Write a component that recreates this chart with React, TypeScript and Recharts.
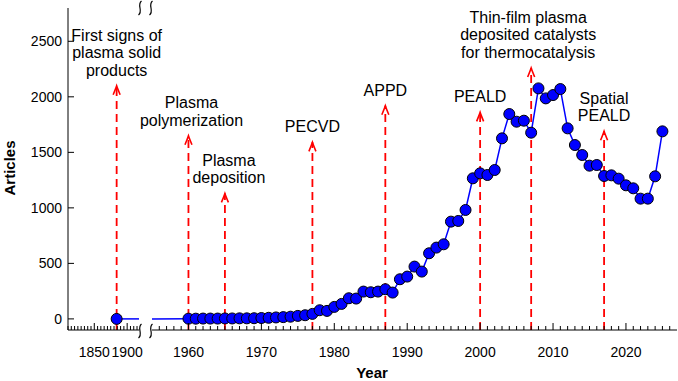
import { LineChart, Line, XAxis, YAxis, ReferenceLine, ReferenceDot } from "recharts";

// left (broken) segment of the time axis
const earlyYears = [1884, 1918];
const earlyArticles = [0, 0];

// right segment
const years = [
  1955, 1960, 1961, 1962, 1963, 1964, 1965, 1966, 1967, 1968, 1969, 1970,
  1971, 1972, 1973, 1974, 1975, 1976, 1977, 1978, 1979, 1980, 1981, 1982,
  1983, 1984, 1985, 1986, 1987, 1988, 1989, 1990, 1991, 1992, 1993, 1994,
  1995, 1996, 1997, 1998, 1999, 2000, 2001, 2002, 2003, 2004, 2005, 2006,
  2007, 2008, 2009, 2010, 2011, 2012, 2013, 2014, 2015, 2016, 2017, 2018,
  2019, 2020, 2021, 2022, 2023, 2024, 2025,
];
const articles = [
  0, 2, 2, 3, 3, 3, 4, 4, 5, 5, 6, 8,
  10, 13, 16, 20, 27, 33, 45, 78, 72, 108, 135, 186,
  183, 246, 240, 246, 267, 237, 357, 381, 471, 426, 591, 642,
  672, 876, 882, 981, 1266, 1311, 1296, 1341, 1626, 1845, 1776, 1785,
  1677, 2076, 1986, 2016, 2070, 1716, 1566, 1476, 1380, 1386, 1287, 1293,
  1263, 1203, 1176, 1083, 1083, 1284, 1689,
];
// points that only carry the line to the axis break (no marker)
const connectorYears = [1918, 1955];

const markerYears = [1884, 1960, 1965, 1977, 1987, 2000, 2007, 2017];
const markerTops = [2100, 1650, 1130, 1590, 1920, 1860, 2260, 1690];
const markerLabels = [
  ["First signs of", "plasma solid", "products"],
  ["Plasma", "polymerization"],
  ["Plasma", "deposition"],
  ["PECVD"],
  ["APPD"],
  ["PEALD"],
  ["Thin-film plasma", "deposited catalysts", "for thermocatalysis"],
  ["Spatial", "PEALD"],
];
const labelShift: Record<number, number> = { 1960: 3, 1965: 4, 2007: -3, 2017: 0 };

const yTicks = [0, 500, 1000, 1500, 2000, 2500];
const earlyLabels = [1850, 1900];
const lateLabels = [1960, 1970, 1980, 1990, 2000, 2010, 2020];

const earlyTicks: number[] = [];
for (let t = 1810; t <= 1915; t += 5) earlyTicks.push(t);
const lateTicks: number[] = [];
for (let t = 1956; t <= 2026; t++) lateTicks.push(t);

const earlyData = earlyYears.map((year, i) => ({ year, articles: earlyArticles[i] }));
const lateData = years.map((year, i) => ({ year, articles: articles[i] }));

const FONT = "'Liberation Sans', Arial, sans-serif";
const Y_DOMAIN: [number, number] = [-100, 2800];
const EARLY_DOMAIN: [number, number] = [1810, 1918];
const LATE_DOMAIN: [number, number] = [1955, 2027];

const makeXTick = (labels: number[]) => (props: any) => {
  const { x, y, payload } = props;
  const major = labels.includes(payload.value);
  return (
    <g>
      <line x1={x} x2={x} y1={y} y2={y - (major ? 7 : 4)} stroke="#000" strokeWidth={1} />
      {major && (
        <text x={x} y={y + 27} textAnchor="middle" fontSize={14} fontFamily={FONT} fill="#000">
          {payload.value}
        </text>
      )}
    </g>
  );
};

const YTick = (props: any) => {
  const { x, y, payload } = props;
  return (
    <g>
      <line x1={x} x2={x + 6} y1={y} y2={y} stroke="#000" strokeWidth={1} />
      <text x={x - 6} y={y + 5} textAnchor="end" fontSize={14} fontFamily={FONT} fill="#000">
        {payload.value}
      </text>
    </g>
  );
};

const dot = (p: any) => {
  if (connectorYears.includes(p.payload.year)) return <g key={`d${p.index}`} />;
  return (
    <circle key={`d${p.index}`} cx={p.cx} cy={p.cy} r={5.5} fill="#0000ff" stroke="#000" strokeWidth={1} />
  );
};

const markers = (idx: number[]) =>
  idx.flatMap((i) => {
    const year = markerYears[i];
    const top = markerTops[i];
    const lines = markerLabels[i];
    const shift = labelShift[year] ?? 0;
    return [
      <ReferenceLine
        key={`l${year}`}
        segment={[{ x: year, y: Y_DOMAIN[0] }, { x: year, y: top }]}
        stroke="#ff0000"
        strokeWidth={1.8}
        strokeDasharray="8 5"
      />,
      <ReferenceDot
        key={`a${year}`}
        x={year}
        y={top}
        r={0}
        shape={(p: any) => (
          <g>
            <path
              d={`M${p.cx - 3.5} ${p.cy + 9} Q${p.cx - 1} ${p.cy + 3} ${p.cx} ${p.cy} Q${p.cx + 1} ${p.cy + 3} ${p.cx + 3.5} ${p.cy + 9}`}
              stroke="#ff0000"
              strokeWidth={1.6}
              fill="none"
            />
            {lines.map((t, k) => (
              <text
                key={k}
                x={p.cx + shift}
                y={p.cy - 10 - (lines.length - 1 - k) * 17.5}
                textAnchor="middle"
                fontSize={16}
                fontFamily={FONT}
                fill="#000"
              >
                {t}
              </text>
            ))}
          </g>
        )}
      />,
    ];
  });

const squiggle = (cx: number, cy: number) =>
  `M${cx + 1.5} ${cy - 7} C${cx - 3.5} ${cy - 3}, ${cx + 3.5} ${cy + 3}, ${cx - 1.5} ${cy + 7}`;

export default function App() {
  return (
    <div style={{ position: "absolute", left: 0, top: 0, width: 678, height: 381, background: "#fff" }}>
      <div style={{ position: "absolute", left: 0, top: 0 }}>
        <LineChart width={678} height={381} data={earlyData} margin={{ top: 8, right: 539, bottom: 0, left: 0 }}>
          <XAxis
            dataKey="year"
            type="number"
            domain={EARLY_DOMAIN}
            ticks={earlyTicks}
            interval={0}
            tickSize={0}
            tickMargin={0}
            tick={makeXTick(earlyLabels)}
            height={51}
            stroke="#000"
          />
          <XAxis xAxisId="top" orientation="top" type="number" domain={EARLY_DOMAIN} height={0} tick={false} stroke="#000" />
          <YAxis
            type="number"
            domain={Y_DOMAIN}
            ticks={yTicks}
            interval={0}
            width={68}
            tickSize={0}
            tickMargin={0}
            tick={YTick}
            stroke="#000"
            label={() => (
              <text
                x={15}
                y={168}
                transform="rotate(-90 15 168)"
                textAnchor="middle"
                fontSize={15}
                fontWeight="bold"
                fontFamily={FONT}
                fill="#000"
              >
                Articles
              </text>
            )}
          />
          {markers([0])}
          <Line
            dataKey="articles"
            stroke="#0000ff"
            strokeWidth={1.5}
            dot={dot}
            isAnimationActive={false}
          />
        </LineChart>
      </div>
      <div style={{ position: "absolute", left: 0, top: 0 }}>
        <LineChart width={678} height={381} data={lateData} margin={{ top: 8, right: 1, bottom: 0, left: 152 }}>
          <XAxis
            dataKey="year"
            type="number"
            domain={LATE_DOMAIN}
            ticks={lateTicks}
            interval={0}
            tickSize={0}
            tickMargin={0}
            tick={makeXTick(lateLabels)}
            height={51}
            stroke="#000"
            label={() => (
              <text x={372} y={378} textAnchor="middle" fontSize={15} fontWeight="bold" fontFamily={FONT} fill="#000">
                Year
              </text>
            )}
          />
          <XAxis xAxisId="top" orientation="top" type="number" domain={LATE_DOMAIN} height={0} tick={false} stroke="#000" />
          <YAxis type="number" domain={Y_DOMAIN} hide />
          <YAxis yAxisId="r" orientation="right" type="number" domain={Y_DOMAIN} width={0} tick={false} stroke="#000" />
          {markers([1, 2, 3, 4, 5, 6, 7])}
          <Line
            dataKey="articles"
            stroke="#0000ff"
            strokeWidth={1.5}
            dot={dot}
            isAnimationActive={false}
          />
        </LineChart>
      </div>
      <svg width={678} height={381} style={{ position: "absolute", left: 0, top: 0, pointerEvents: "none" }}>
        <g stroke="#000" strokeWidth={1.2} fill="none">
          <path d={squiggle(140, 331)} />
          <path d={squiggle(151, 331)} />
          <path d={squiggle(140, 8)} />
          <path d={squiggle(151, 8)} />
        </g>
      </svg>
    </div>
  );
}
